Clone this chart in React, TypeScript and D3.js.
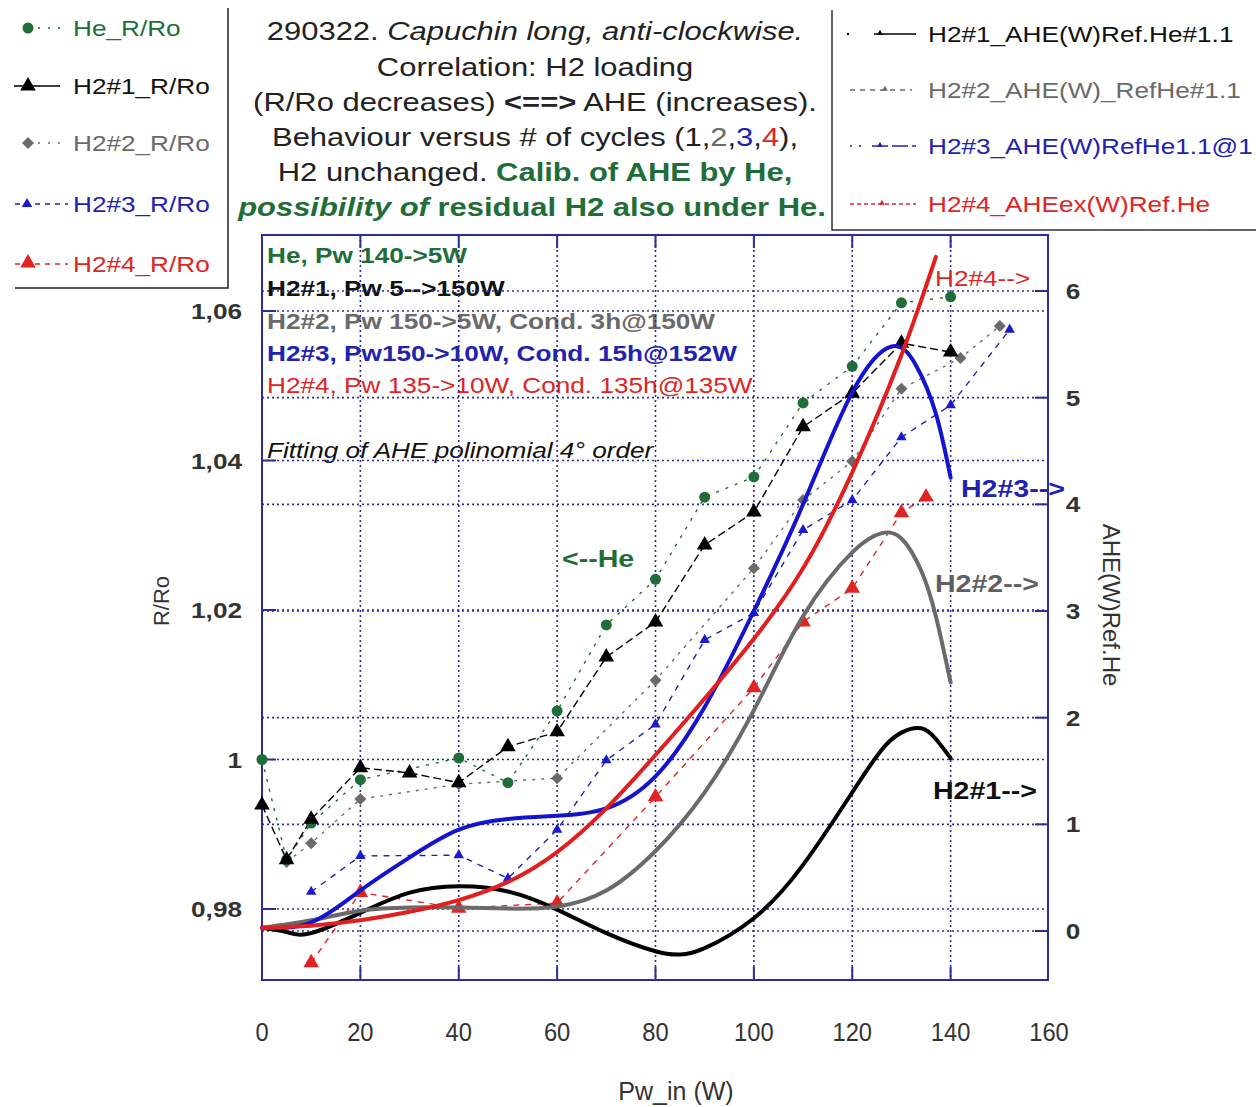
import React from "react";
import * as d3 from "d3";

// ---- data ----
const heW = [0, 5, 10, 20, 40, 50, 60, 70, 80, 90, 100, 110, 120, 130, 140];
const heR = [1.0, 0.9866, 0.9915, 0.9973, 1.0002, 0.9969, 1.0065, 1.018, 1.0241, 1.0351, 1.0378, 1.0477, 1.0526, 1.0611, 1.0619];

const h1W = [0, 5, 10, 20, 30, 40, 50, 60, 70, 80, 90, 100, 110, 120, 130, 140];
const h1R = [0.9939, 0.9866, 0.992, 0.9989, 0.9982, 0.9969, 1.0017, 1.0037, 1.0137, 1.0184, 1.0287, 1.0331, 1.0445, 1.049, 1.0557, 1.0545];

const h2W = [5, 10, 20, 40, 60, 80, 100, 110, 120, 130, 142, 150];
const h2R = [0.9863, 0.9888, 0.9947, 0.9967, 0.9975, 1.0106, 1.0256, 1.0347, 1.0399, 1.0496, 1.0537, 1.058];

const h3W = [10, 20, 40, 50, 60, 70, 80, 90, 100, 110, 120, 130, 140, 152];
const h3R = [0.9823, 0.9871, 0.9872, 0.9841, 0.9906, 0.9999, 1.0047, 1.016, 1.0196, 1.0307, 1.0347, 1.0431, 1.0474, 1.0575];

const h4W = [10, 20, 40, 60, 80, 100, 110, 120, 130, 135];
const h4R = [0.9728, 0.9822, 0.9801, 0.9808, 0.995, 1.0096, 1.0184, 1.0229, 1.033, 1.0351];

// AHE fitted curves (right axis)
const ahe1W = [0, 5, 10, 20, 30, 40, 50, 60, 70, 80, 85, 90, 100, 110, 120, 126, 130, 134, 137, 140];
const ahe1 = [0.03, -0.01, -0.02, 0.17, 0.36, 0.42, 0.37, 0.2, -0.02, -0.19, -0.22, -0.16, 0.12, 0.62, 1.3, 1.7, 1.86, 1.9, 1.8, 1.62];
const ahe2W = [0, 10, 20, 30, 40, 50, 60, 70, 80, 90, 100, 110, 120, 126, 130, 134, 137, 140];
const ahe2 = [0.03, 0.1, 0.19, 0.22, 0.22, 0.21, 0.23, 0.38, 0.75, 1.3, 2.07, 2.95, 3.55, 3.73, 3.68, 3.38, 2.95, 2.33];
const ahe3W = [0, 10, 20, 30, 40, 50, 60, 70, 80, 90, 100, 110, 120, 128, 133, 137, 140];
const ahe3 = [0.03, 0.08, 0.38, 0.69, 0.95, 1.05, 1.08, 1.15, 1.45, 2.1, 3.0, 4.0, 5.05, 5.48, 5.3, 4.85, 4.25];
const ahe4W = [0, 10, 20, 30, 40, 50, 60, 70, 80, 90, 100, 110, 120, 130, 137];
const ahe4 = [0.03, 0.05, 0.1, 0.18, 0.29, 0.46, 0.74, 1.15, 1.65, 2.18, 2.74, 3.4, 4.3, 5.4, 6.32];

const xTicks = [0, 20, 40, 60, 80, 100, 120, 140, 160];
const leftTicks = [0.98, 1.0, 1.02, 1.04, 1.06];
const leftTickLabels = ["0,98", "1", "1,02", "1,04", "1,06"];
const rightTicks = [0, 1, 2, 3, 4, 5, 6];

const GREEN = "#1f6e38";
const GRAY = "#6a6a6a";
const BLUE = "#2222b0";
const RED = "#e02424";
const NAVY = "#2c2c9c";
const FONT = "'Liberation Sans', Arial, sans-serif";
const SX = 1.19;

const x = d3.scaleLinear().domain([0, 160]).range([262, 1049]);
const yL = d3.scaleLinear().domain([0.98, 1.06]).range([909, 311]);
const yR = d3.scaleLinear().domain([0, 6]).range([931, 291]);
const PL = 262, PR = 1048, PT = 235, PB = 980;

const T = ({ x: tx, y: ty, size = 22, weight = "normal", fs = "normal", fill = "#222", anchor = "start", sx = SX, children }: any) => (
  <text transform={`translate(${tx},${ty}) scale(${sx},1)`} fontSize={size} fontWeight={weight} fontStyle={fs}
    fill={fill} textAnchor={anchor} fontFamily={FONT}>{children}</text>
);

const sym = (type: any, size: number) => d3.symbol().type(type).size(size)() as string;

const Marker = ({ cx, cy, kind }: any) => {
  if (kind === "he") return <circle cx={cx} cy={cy} r={5.5} fill={GREEN} />;
  if (kind === "h1") return <path transform={`translate(${cx},${cy})`} d={sym(d3.symbolTriangle, 105)} fill="#000" />;
  if (kind === "h2") return <path transform={`translate(${cx},${cy}) rotate(45)`} d={sym(d3.symbolSquare, 72)} fill={GRAY} />;
  if (kind === "h3") return <path transform={`translate(${cx},${cy})`} d={sym(d3.symbolTriangle, 48)} fill="#1a1ad0" />;
  return <path transform={`translate(${cx},${cy})`} d={sym(d3.symbolTriangle, 105)} fill={RED} />;
};

const seriesR = [
  { w: h2W, r: h2R, kind: "h2", color: GRAY, dash: "3 6" },
  { w: h3W, r: h3R, kind: "h3", color: BLUE, dash: "6 6" },
  { w: h4W, r: h4R, kind: "h4", color: RED, dash: "6 6" },
  { w: heW, r: heR, kind: "he", color: GREEN, dash: "3 7" },
  { w: h1W, r: h1R, kind: "h1", color: "#000", dash: "8 4" },
];

const curves = [
  { w: ahe1W, a: ahe1, color: "#000" },
  { w: ahe2W, a: ahe2, color: "#6a6a6a" },
  { w: ahe3W, a: ahe3, color: "#1414d0" },
  { w: ahe4W, a: ahe4, color: "#e21e1e" },
];

export default function App() {
  const thin = d3.line<[number, number]>().x((d) => x(d[0])).y((d) => yL(d[1]));
  const thick = d3.line<[number, number]>().x((d) => x(d[0])).y((d) => yR(d[1])).curve(d3.curveNatural);

  return (
    <svg width={1256} height={1107} style={{ position: "absolute", left: 0, top: 0, background: "#fff" }}>
      <rect width={1256} height={1107} fill="#fff" />

      {/* left legend */}
      <path d="M228,8 V288 H15" fill="none" stroke="#222" strokeWidth={1.5} />
      <line x1={38} x2={68} y1={28} y2={28} stroke={GREEN} strokeDasharray="2 8" strokeWidth={1.5} />
      <Marker cx={28} cy={28} kind="he" />
      <T x={73} y={36} fill={GREEN}>He_R/Ro</T>
      <line x1={14} x2={60} y1={86} y2={86} stroke="#000" strokeWidth={1.5} />
      <Marker cx={28} cy={86} kind="h1" />
      <T x={73} y={94} fill="#111">H2#1_R/Ro</T>
      <line x1={38} x2={68} y1={143} y2={143} stroke={GRAY} strokeDasharray="2 8" strokeWidth={1.5} />
      <Marker cx={28} cy={143} kind="h2" />
      <T x={73} y={151} fill={GRAY}>H2#2_R/Ro</T>
      <line x1={15} x2={68} y1={204} y2={204} stroke={BLUE} strokeDasharray="5 5" strokeWidth={1.5} />
      <Marker cx={27} cy={204} kind="h3" />
      <T x={73} y={212} fill={BLUE}>H2#3_R/Ro</T>
      <line x1={15} x2={68} y1={264} y2={264} stroke={RED} strokeDasharray="5 5" strokeWidth={1.5} />
      <Marker cx={28} cy={263} kind="h4" />
      <T x={73} y={272} fill={RED}>H2#4_R/Ro</T>

      {/* title */}
      <text transform={`translate(535,40) scale(${SX},1)`} fontSize={26} fontFamily={FONT} textAnchor="middle" fill="#222">
        290322<tspan>. </tspan><tspan fontStyle="italic">Capuchin long, anti-clockwise.</tspan>
      </text>
      <T x={535} y={76} size={26} anchor="middle">Correlation: H2 loading</T>
      <text transform={`translate(535,111) scale(${SX},1)`} fontSize={26} fontFamily={FONT} textAnchor="middle" fill="#222">
        (R/Ro decreases) <tspan fontWeight="bold">&lt;==&gt;</tspan> AHE (increases).
      </text>
      <text transform={`translate(535,146) scale(${SX},1)`} fontSize={26} fontFamily={FONT} textAnchor="middle" fill="#222">
        Behaviour versus # of cycles (<tspan fill="#222">1</tspan>,<tspan fill={GRAY}>2</tspan>,<tspan fill={BLUE}>3</tspan>,<tspan fill={RED}>4</tspan>),
      </text>
      <text transform={`translate(535,181) scale(${SX},1)`} fontSize={26} fontFamily={FONT} textAnchor="middle" fill="#222">
        H2 unchanged. <tspan fontWeight="bold" fill={GREEN}>Calib. of AHE by He,</tspan>
      </text>
      <text transform={`translate(532,216) scale(${SX},1)`} fontSize={26} fontFamily={FONT} textAnchor="middle" fill={GREEN} fontWeight="bold">
        <tspan fontStyle="italic">possibility of</tspan> residual H2 also under He.
      </text>

      {/* right legend */}
      <path d="M832,10 V230 H1256" fill="none" stroke="#333" strokeWidth={1.5} />
      <circle cx={848} cy={34} r={1.2} fill="#000" />
      <line x1={874} x2={916} y1={34} y2={34} stroke="#000" strokeWidth={1.5} />
      <path transform="translate(880,33)" d={sym(d3.symbolTriangle, 14)} fill="#000" />
      <T x={928} y={42} fill="#111">H2#1_AHE(W)Ref.He#1.1</T>
      <line x1={850} x2={912} y1={90} y2={90} stroke={GRAY} strokeDasharray="5 5" strokeWidth={1.5} />
      <path transform="translate(885,89)" d={sym(d3.symbolTriangle, 14)} fill={GRAY} />
      <T x={928} y={98} fill={GRAY}>H2#2_AHE(W)_RefHe#1.1</T>
      <line x1={850} x2={866} y1={146} y2={146} stroke={BLUE} strokeDasharray="2 7" strokeWidth={1.5} />
      <line x1={872} x2={916} y1={146} y2={146} stroke={BLUE} strokeDasharray="16 4" strokeWidth={1.5} />
      <path transform="translate(880,145)" d={sym(d3.symbolTriangle, 14)} fill={BLUE} />
      <T x={928} y={154} fill={BLUE}>H2#3_AHE(W)RefHe1.1@1</T>
      <line x1={850} x2={916} y1={204} y2={204} stroke={RED} strokeDasharray="4 3" strokeWidth={1.5} />
      <path transform="translate(882,203)" d={sym(d3.symbolTriangle, 14)} fill={RED} />
      <T x={928} y={212} fill={RED}>H2#4_AHEex(W)Ref.He</T>

      {/* annotations inside the plot */}
      <T x={267} y={263} weight="bold" fill={GREEN}>He, Pw 140-&gt;5W</T>
      <T x={267} y={296} weight="bold" fill="#111">H2#1, Pw 5--&gt;150W</T>
      <T x={267} y={329} weight="bold" fill={GRAY}>H2#2, Pw 150-&gt;5W, Cond. 3h@150W</T>
      <T x={267} y={361} weight="bold" fill={BLUE}>H2#3, Pw150-&gt;10W, Cond. 15h@152W</T>
      <T x={267} y={393} fill={RED}>H2#4, Pw 135-&gt;10W, Cond. 135h@135W</T>
      <T x={267} y={458} fs="italic" fill="#111">Fitting of AHE polinomial 4° order</T>

      {/* grid */}
      <g stroke={NAVY} strokeWidth={1.6} strokeDasharray="2 3">
        {xTicks.slice(1, -1).map((t) => <line key={"gx" + t} x1={x(t)} x2={x(t)} y1={PT} y2={PB} />)}
        {leftTicks.map((t) => <line key={"gl" + t} x1={PL} x2={PR} y1={yL(t)} y2={yL(t)} />)}
        {rightTicks.map((t) => <line key={"gr" + t} x1={PL} x2={PR} y1={yR(t)} y2={yR(t)} />)}
      </g>
      <rect x={PL} y={PT} width={PR - PL} height={PB - PT} fill="none" stroke={NAVY} strokeWidth={2} />
      <g stroke={NAVY} strokeWidth={2}>
        {xTicks.slice(1, -1).map((t) => (
          <g key={"tx" + t}>
            <line x1={x(t)} x2={x(t)} y1={PB} y2={PB - 13} />
            <line x1={x(t)} x2={x(t)} y1={PT} y2={PT + 13} />
          </g>
        ))}
        {leftTicks.map((t) => <line key={"tl" + t} x1={PL} x2={PL + 14} y1={yL(t)} y2={yL(t)} />)}
        {rightTicks.map((t) => <line key={"tr" + t} x1={PR} x2={PR - 13} y1={yR(t)} y2={yR(t)} />)}
      </g>

      {/* R/Ro series */}
      {seriesR.map((s, i) => (
        <path key={"l" + i} d={thin(s.w.map((w, j) => [w, s.r[j]] as [number, number])) as string}
          fill="none" stroke={s.color} strokeWidth={1.4} strokeDasharray={s.dash} />
      ))}
      {seriesR.map((s, i) => (
        <g key={"m" + i}>
          {s.w.map((w, j) => <Marker key={j} cx={x(w)} cy={yL(s.r[j])} kind={s.kind} />)}
        </g>
      ))}

      {/* AHE fits */}
      {curves.map((c, i) => (
        <path key={"c" + i} d={thick(c.w.map((w, j) => [w, c.a[j]] as [number, number])) as string}
          fill="none" stroke={c.color} strokeWidth={4} strokeLinecap="round" />
      ))}

      <T x={562} y={567} size={24} weight="bold" fill={GREEN}>&lt;--He</T>
      <T x={935} y={286} size={22} fill={RED}>H2#4--&gt;</T>
      <T x={961} y={497} size={24} weight="bold" fill={BLUE}>H2#3--&gt;</T>
      <T x={935} y={592} size={24} weight="bold" fill="#606060">H2#2--&gt;</T>
      <T x={933} y={799} size={24} weight="bold" fill="#111">H2#1--&gt;</T>

      {/* axes labels */}
      {leftTicks.map((t, i) => (
        <T key={"ll" + t} x={242} y={yL(t) + 8} size={22} weight="bold" anchor="end" fill="#333">{leftTickLabels[i]}</T>
      ))}
      {rightTicks.map((t) => (
        <T key={"rl" + t} x={1073} y={yR(t) + 8} size={22} weight="bold" anchor="middle" fill="#333">{String(t)}</T>
      ))}
      {xTicks.map((t) => (
        <T key={"xl" + t} x={x(t)} y={1041} size={25} sx={0.95} anchor="middle" fill="#333">{String(t)}</T>
      ))}
      <T x={676} y={1100} size={25} sx={1} anchor="middle" fill="#333">Pw_in (W)</T>
      <text transform="translate(169,601) rotate(-90)" fontSize={22} fontFamily={FONT} textAnchor="middle" fill="#333">R/Ro</text>
      <text transform="translate(1103,605) rotate(90)" fontSize={24} fontFamily={FONT} textAnchor="middle" fill="#333">AHE(W)Ref.He</text>
    </svg>
  );
}
